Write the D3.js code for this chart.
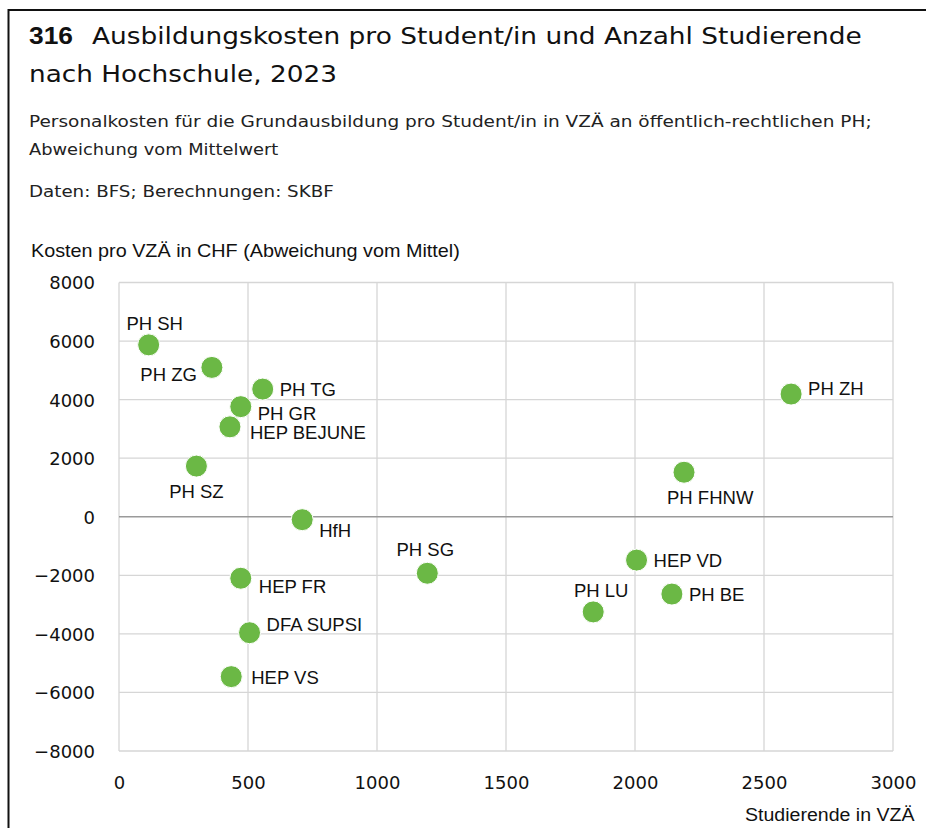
<!DOCTYPE html>
<html>
<head>
<meta charset="utf-8">
<script src="https://cdn.jsdelivr.net/npm/d3@7"></script>
<style>
  html, body { margin: 0; padding: 0; background: #fff; }
  svg { display: block; font-family: "Liberation Sans", Arial, sans-serif; }
</style>
</head>
<body>
<svg id="chart" width="926" height="828"></svg>
<script>
// ---- Data ----
const schools = ["PH SH", "PH ZG", "PH TG", "PH GR", "HEP BEJUNE", "PH SZ", "HfH", "HEP FR",
  "PH SG", "DFA SUPSI", "HEP VS", "PH ZH", "PH FHNW", "HEP VD", "PH BE", "PH LU"];
const students = [115, 360, 557, 472, 430, 300, 710, 472, 1195, 506, 435, 2605, 2190, 2006, 2143, 1838];
const costDeviation = [5870, 5100, 4360, 3760, 3070, 1730, -100, -2100, -1930, -3960, -5460, 4190, 1520, -1480, -2640, -3250];
const xTicks = [0, 500, 1000, 1500, 2000, 2500, 3000];
const yTicks = [8000, 6000, 4000, 2000, 0, -2000, -4000, -6000, -8000];

// ---- Label layout (dx, dy from dot centre, text anchor) ----
const labelLayout = {
  "PH SH": [6, -15, "middle"],
  "PH ZG": [-15, 14, "end"],
  "PH TG": [17, 7, "start"],
  "PH GR": [17, 13, "start"],
  "HEP BEJUNE": [20, 12, "start"],
  "PH SZ": [0, 32, "middle"],
  "HfH": [17, 17, "start"],
  "HEP FR": [18, 15, "start"],
  "PH SG": [-2, -17, "middle"],
  "DFA SUPSI": [17, -2, "start"],
  "HEP VS": [20, 7, "start"],
  "PH ZH": [17, 1, "start"],
  "PH FHNW": [-17, 32, "start"],
  "HEP VD": [17, 7, "start"],
  "PH BE": [17, 7, "start"],
  "PH LU": [8, -15, "middle"]
};

const data = schools.map((s, i) => ({ name: s, x: students[i], y: costDeviation[i] }));

const svg = d3.select("#chart");

// horizontally fit a text element between its start x and a target right edge
function fitTo(sel, x0, x1) {
  const w = sel.node().getBBox().width;
  const s = (x1 - x0) / w;
  sel.attr("transform", `translate(${x0},0) scale(${s},1) translate(${-x0},0)`);
  return sel;
}

// Frame lines
svg.append("line").attr("x1", 8.5).attr("x2", 926).attr("y1", 10).attr("y2", 10)
  .attr("stroke", "#111").attr("stroke-width", 2);
svg.append("line").attr("x1", 8.5).attr("x2", 8.5).attr("y1", 9).attr("y2", 828)
  .attr("stroke", "#111").attr("stroke-width", 2);

const headFont = "DejaVu Sans, Liberation Sans, sans-serif";

// Title
const t316 = svg.append("text").attr("x", 29).attr("y", 44)
  .attr("font-family", "Liberation Sans, Arial, sans-serif")
  .attr("font-size", 24).attr("font-weight", "bold").attr("fill", "#111").text("316");
fitTo(t316, 29, 73);
const t1 = svg.append("text").attr("x", 92).attr("y", 44).attr("font-family", headFont)
  .attr("font-size", 23.5).attr("fill", "#111")
  .text("Ausbildungskosten pro Student/in und Anzahl Studierende");
fitTo(t1, 92, 862);
const t2 = svg.append("text").attr("x", 29).attr("y", 82).attr("font-family", headFont)
  .attr("font-size", 23.5).attr("fill", "#111").text("nach Hochschule, 2023");
fitTo(t2, 29, 337);

// Subtitle
const s1 = svg.append("text").attr("x", 29).attr("y", 127).attr("font-family", headFont)
  .attr("font-size", 16.5).attr("fill", "#222")
  .text("Personalkosten für die Grundausbildung pro Student/in in VZÄ an öffentlich-rechtlichen PH;");
fitTo(s1, 29, 872);
const s2 = svg.append("text").attr("x", 29).attr("y", 155).attr("font-family", headFont)
  .attr("font-size", 16.5).attr("fill", "#222").text("Abweichung vom Mittelwert");
fitTo(s2, 29, 279);
const s3 = svg.append("text").attr("x", 29).attr("y", 197).attr("font-family", headFont)
  .attr("font-size", 16.5).attr("fill", "#222").text("Daten: BFS; Berechnungen: SKBF");
fitTo(s3, 29, 334);

// Scales
const x = d3.scaleLinear().domain([0, 3000]).range([119, 893]);
const y = d3.scaleLinear().domain([-8000, 8000]).range([751, 282.5]);

// Y axis title
const yt = svg.append("text").attr("x", 31).attr("y", 257).attr("font-size", 19).attr("fill", "#111")
  .text("Kosten pro VZÄ in CHF (Abweichung vom Mittel)");
fitTo(yt, 31, 460);

// Grid
const grid = svg.append("g");
grid.selectAll("line.v").data(xTicks).join("line")
  .attr("x1", d => x(d)).attr("x2", d => x(d)).attr("y1", y(8000)).attr("y2", y(-8000))
  .attr("stroke", "#d6d6d6").attr("stroke-width", 1.3);
grid.selectAll("line.h").data(yTicks).join("line")
  .attr("x1", x(0)).attr("x2", x(3000)).attr("y1", d => y(d)).attr("y2", d => y(d))
  .attr("stroke", d => d === 0 ? "#9a9a9a" : "#d6d6d6")
  .attr("stroke-width", d => d === 0 ? 1.6 : 1.3);

// Axes labels
const tickFont = "DejaVu Sans, Liberation Sans, sans-serif";
const fmt = d => d < 0 ? "\u2212" + Math.abs(d) : String(d);
const yAxis = d3.axisLeft(y).tickValues(yTicks).tickSize(0).tickPadding(0).tickFormat(fmt);
const gy = svg.append("g").attr("transform", "translate(95,0)").call(yAxis);
gy.select(".domain").remove();
gy.selectAll("text").attr("font-size", 18).attr("fill", "#111")
  .attr("font-family", tickFont).attr("x", 0).attr("dy", "0.36em");

const xAxis = d3.axisBottom(x).tickValues(xTicks).tickSize(0).tickPadding(0).tickFormat(d => String(d));
const gx = svg.append("g").attr("transform", "translate(0,789)").call(xAxis);
gx.select(".domain").remove();
gx.selectAll("text").attr("font-size", 18).attr("fill", "#111")
  .attr("font-family", tickFont).attr("dy", 0).attr("y", 0);

// X axis title
const xtt = svg.append("text").attr("x", 745).attr("y", 821)
  .attr("font-size", 19).attr("fill", "#111").text("Studierende in VZÄ");
fitTo(xtt, 745, 915);

// Dots
svg.append("g").selectAll("circle").data(data).join("circle")
  .attr("cx", d => x(d.x)).attr("cy", d => y(d.y)).attr("r", 11)
  .attr("fill", "#6bb845").attr("stroke", "#fff").attr("stroke-width", 1);

// Labels
svg.append("g").selectAll("text").data(data).join("text")
  .attr("x", d => x(d.x) + labelLayout[d.name][0])
  .attr("y", d => y(d.y) + labelLayout[d.name][1])
  .attr("text-anchor", d => labelLayout[d.name][2])
  .attr("font-size", 18.5).attr("fill", "#111")
  .text(d => d.name);
</script>
</body>
</html>
